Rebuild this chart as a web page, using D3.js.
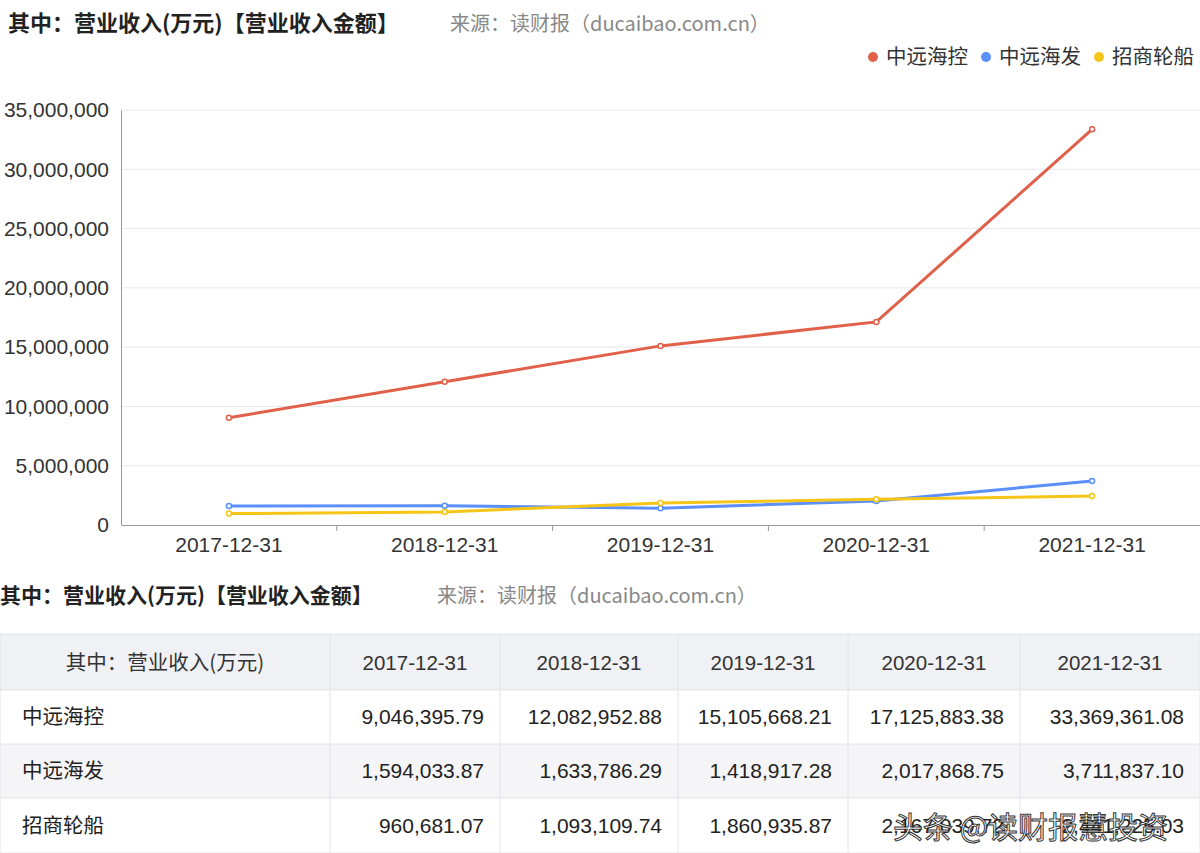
<!DOCTYPE html>
<html><head><meta charset="utf-8">
<script src="https://cdn.jsdelivr.net/npm/d3@7"></script>
<style>
body{margin:0;background:#fff;font-family:"Noto Sans CJK SC","Noto Sans",sans-serif;}
</style></head><body>
<svg id="c" width="1200" height="853"></svg>
<script>
const categories = ['2017-12-31','2018-12-31','2019-12-31','2020-12-31','2021-12-31']
const seriesNames = ['中远海控','中远海发','招商轮船']
const colors = ['#e0604a','#5b8ff9','#f5c518']
const cosco = [9046395.79,12082952.88,15105668.21,17125883.38,33369361.08]
const coscoDev = [1594033.87,1633786.29,1418917.28,2017868.75,3711837.10]
const cmes = [960681.07,1093109.74,1860935.87,2167039.72,2441225.03]
const yTicks = [0,5000000,10000000,15000000,20000000,25000000,30000000,35000000]
const series = [cosco, coscoDev, cmes]
const title = '其中：营业收入(万元)【营业收入金额】'
const source = '来源：读财报（ducaibao.com.cn）'
const numFont = 'Helvetica, "Liberation Sans", Arial, sans-serif'

const svg = d3.select('#c')
const fmt = d3.format(',')
const fmt2 = d3.format(',.2f')

svg.append('text').attr('x', 8).attr('y', 31).attr('font-size', 22).attr('font-weight', 'bold')
  .attr('fill', '#222').text(title)
svg.append('text').attr('x', 450).attr('y', 31).attr('font-size', 20).attr('fill', '#888').text(source)

// legend
let lx = 1194
for (let i = seriesNames.length - 1; i >= 0; i--) {
  const t = svg.append('text').attr('x', lx).attr('y', 64).attr('font-size', 20.5)
    .attr('text-anchor', 'end').attr('fill', '#333').text(seriesNames[i])
  const w = t.node().getComputedTextLength()
  svg.append('circle').attr('cx', lx - w - 13).attr('cy', 57).attr('r', 5).attr('fill', colors[i])
  lx = lx - w - 31
}

const x = d3.scaleBand().domain(categories).range([121, 1200])
const y = d3.scaleLinear().domain([0, 35000000]).range([525, 110])

svg.append('g').selectAll('line').data(yTicks.slice(1)).join('line')
  .attr('x1', 121).attr('x2', 1200).attr('y1', d => y(d)).attr('y2', d => y(d))
  .attr('stroke', '#e6e8ee')

svg.append('g').attr('transform', 'translate(121,0)')
  .call(d3.axisLeft(y).tickValues(yTicks).tickFormat(fmt).tickSize(0).tickPadding(12))
  .call(g => g.select('.domain').attr('stroke', '#999'))
  .call(g => g.selectAll('text').attr('font-size', 21).attr('fill', '#333').attr('font-family', numFont))

svg.append('g').attr('transform', 'translate(0,525)')
  .call(d3.axisBottom(x).tickSize(0).tickPadding(12))
  .call(g => g.select('.domain').attr('stroke', '#999'))
  .call(g => g.selectAll('text').attr('font-size', 21).attr('fill', '#333').attr('font-family', numFont))
svg.append('g').selectAll('line').data(categories.slice(1)).join('line')
  .attr('x1', d => x(d)).attr('x2', d => x(d)).attr('y1', 525).attr('y2', 531).attr('stroke', '#999')

const line = d3.line().x((d, i) => x(categories[i]) + x.bandwidth() / 2).y(d => y(d))
series.forEach((s, k) => {
  svg.append('path').datum(s).attr('d', line).attr('fill', 'none')
    .attr('stroke', colors[k]).attr('stroke-width', 3)
  svg.append('g').selectAll('circle').data(s).join('circle')
    .attr('cx', (d, i) => x(categories[i]) + x.bandwidth() / 2).attr('cy', d => y(d))
    .attr('r', 2.5).attr('fill', '#fff').attr('stroke', colors[k]).attr('stroke-width', 1.5)
})

// table
svg.append('text').attr('x', 0).attr('y', 603).attr('font-size', 21).attr('font-weight', 'bold')
  .attr('fill', '#222').text(title)
svg.append('text').attr('x', 437).attr('y', 603).attr('font-size', 20).attr('fill', '#888').text(source)

const colEdges = [0, 330, 500, 678, 848, 1020, 1200]
const rowEdges = [634, 690, 744, 798, 853]
const rows = seriesNames.map((n, i) => [n].concat(series[i].map(fmt2)))
svg.append('rect').attr('x', 0).attr('y', 634).attr('width', 1200).attr('height', 56).attr('fill', '#f0f1f4')
svg.append('rect').attr('x', 0).attr('y', 744).attr('width', 1200).attr('height', 54).attr('fill', '#f5f5f7')
rowEdges.forEach(r => svg.append('line').attr('x1', 0).attr('x2', 1200).attr('y1', r).attr('y2', r).attr('stroke', '#e3e4e8'))
colEdges.forEach(c => svg.append('line').attr('x1', c).attr('x2', c).attr('y1', 634).attr('y2', 853).attr('stroke', '#e3e4e8'))
const headRow = ['其中：营业收入(万元)'].concat(categories)
headRow.forEach((h, j) => {
  svg.append('text').attr('x', (colEdges[j] + colEdges[j + 1]) / 2).attr('y', 670).attr('font-size', 20.5)
    .attr('text-anchor', 'middle').attr('fill', '#333').attr('font-family', j ? numFont : null).text(h)
})
rows.forEach((r, i) => {
  const cy = (rowEdges[i + 1] + rowEdges[i + 2]) / 2 + 7
  r.forEach((v, j) => {
    svg.append('text').attr('x', j === 0 ? 22 : colEdges[j + 1] - 16).attr('y', cy)
      .attr('text-anchor', j === 0 ? 'start' : 'end').attr('font-size', j ? 21 : 20.5)
      .attr('font-family', j ? numFont : null).attr('fill', '#222').text(v)
  })
})

// watermark from source image
svg.append('text').attr('x', 893).attr('y', 838).attr('font-size', 30).attr('fill', '#fff')
  .attr('stroke', '#222').attr('stroke-width', 1).attr('opacity', 0.9).text('头条 @读财报慧投资')
</script>
</body></html>
